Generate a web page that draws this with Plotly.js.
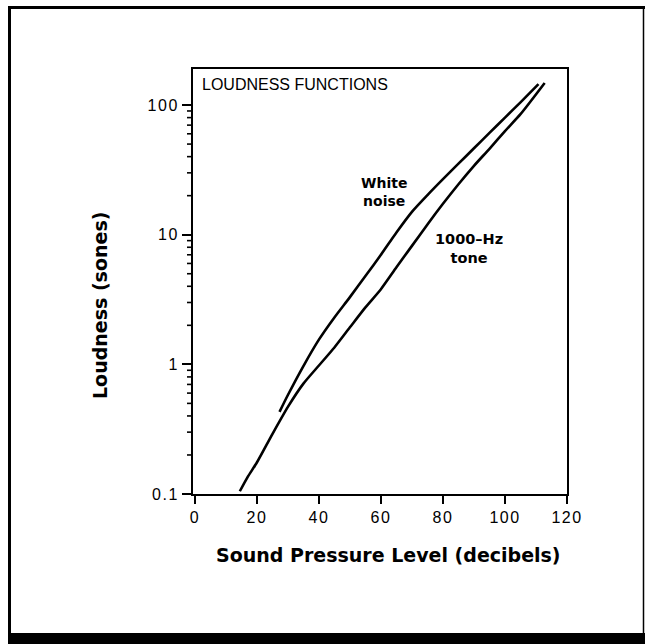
<!DOCTYPE html>
<html><head><meta charset="utf-8">
<script src="https://cdn.plot.ly/plotly-3.0.1.min.js"></script>
<style>
html,body{margin:0;padding:0;background:#fff}
#chart{width:645px;height:644px}
.xtick text,.ytick text{letter-spacing:1.5px}
</style>
</head><body><div id="chart"></div>
<script>
// 1000-Hz tone loudness function
const toneLevel    = [14.5, 17, 20, 25, 30, 35, 40, 45, 50, 55, 60, 65, 70, 75, 80, 85, 90, 95, 100, 105, 112.8];
const toneLoudness = [0.105, 0.135, 0.175, 0.29, 0.47, 0.71, 0.98, 1.35, 1.93, 2.75, 3.8, 5.6, 8.2, 12.0, 17.3, 24.5, 34, 46, 63, 85, 148];
// White noise loudness function
const noiseLevel    = [27.3, 30, 35, 40, 45, 50, 55, 60, 65, 70, 75, 80, 85, 90, 95, 100, 105, 110.8];
const noiseLoudness = [0.43, 0.58, 0.97, 1.55, 2.3, 3.3, 4.8, 7.0, 10.4, 15.0, 20.2, 26.8, 35.3, 46.4, 61, 80, 105, 145];

const xTickVals = [0, 20, 40, 60, 80, 100, 120];
const yTickVals = [0.1, 1, 10, 100];
const yTickText = ['0.1', '1', '10', '100'];
const yMinorVals = [];
[0.1, 1, 10].forEach(d => { for (let k = 2; k <= 9; k++) yMinorVals.push(+(d * k).toPrecision(3)); });

const W = 645, H = 644;
const M = {l: 193, r: 78, t: 69, b: 150};
const PW = W - M.l - M.r, PH = H - M.t - M.b;
const px = x => (x - M.l) / PW;
const py = y => (H - M.b - y) / PH;

const lineStyle = {color: '#000', width: 2.6, shape: 'spline', smoothing: 0.6};
const traces = [
  {x: toneLevel, y: toneLoudness, mode: 'lines', line: lineStyle, name: '1000-Hz tone', hoverinfo: 'skip'},
  {x: noiseLevel, y: noiseLoudness, mode: 'lines', line: lineStyle, name: 'White noise', hoverinfo: 'skip'}
];

const tickFont = {family: 'Liberation Sans, Arial, sans-serif', size: 16, color: '#000'};
const boldFont = s => ({family: 'DejaVu Sans, sans-serif', size: s, color: '#000', weight: 'bold'});
const yRange = [-1, 2.278];
// position of a log value as a fraction of the y axis (same mapping as the log axis)
const yFrac = v => (Math.log10(v) - yRange[0]) / (yRange[1] - yRange[0]);

// minor log ticks on the left axis (outside)
const minorTickShapes = yMinorVals.map(v => ({
  type: 'line', xref: 'paper', yref: 'paper', x0: px(M.l - 6), x1: px(M.l), y0: yFrac(v), y1: yFrac(v),
  line: {color: '#000', width: 1.6}, layer: 'above'
}));

const layout = {
  width: W, height: H,
  margin: M,
  paper_bgcolor: '#fff', plot_bgcolor: '#fff',
  showlegend: false,
  xaxis: {
    range: [-0.6, 120], tickvals: xTickVals, ticks: 'outside', ticklen: 8, tickwidth: 2, tickcolor: '#000',
    showline: true, linewidth: 2, linecolor: '#000', mirror: true, showgrid: false, zeroline: false,
    tickfont: tickFont, fixedrange: true
  },
  yaxis: {
    type: 'log', range: yRange, tickvals: yTickVals, ticktext: yTickText,
    ticks: 'outside', ticklen: 9, tickwidth: 2, tickcolor: '#000',
    showline: true, linewidth: 2, linecolor: '#000', mirror: true, showgrid: false, zeroline: false,
    tickfont: tickFont, fixedrange: true
  },
  annotations: [
    {text: 'LOUDNESS FUNCTIONS', xref: 'paper', yref: 'paper', x: px(200), y: py(85), xanchor: 'left', yanchor: 'middle',
     showarrow: false, font: {family: 'Liberation Sans, Arial, sans-serif', size: 16, color: '#000'}},
    {text: 'White<br>noise', xref: 'paper', yref: 'paper', x: px(384), y: py(192.5), xanchor: 'center', yanchor: 'middle', showarrow: false, font: boldFont(14)},
    {text: '1000–Hz<br>tone', xref: 'paper', yref: 'paper', x: px(469), y: py(248), xanchor: 'center', yanchor: 'middle', showarrow: false, font: boldFont(14.5)},
    {text: 'Sound Pressure Level (decibels)', xref: 'paper', yref: 'paper', x: px(388), y: py(555), xanchor: 'center', yanchor: 'middle', showarrow: false, font: boldFont(19)},
    {text: 'Loudness (sones)', xref: 'paper', yref: 'paper', x: px(100), y: py(306), xanchor: 'center', yanchor: 'middle', textangle: -90, showarrow: false, font: boldFont(19)}
  ],
  shapes: [
    {type: 'line', xref: 'paper', yref: 'paper', x0: px(9.5), x1: px(9.5), y0: py(644), y1: py(6), line: {color: '#000', width: 3}},
    {type: 'line', xref: 'paper', yref: 'paper', x0: px(8), x1: px(645), y0: py(7.5), y1: py(7.5), line: {color: '#000', width: 3}},
    {type: 'line', xref: 'paper', yref: 'paper', x0: px(643.5), x1: px(643.5), y0: py(644), y1: py(6), line: {color: '#000', width: 1.5}},
    {type: 'rect', xref: 'paper', yref: 'paper', x0: px(8), x1: px(645), y0: py(644), y1: py(633), fillcolor: '#000', line: {width: 0}}
  ].concat(minorTickShapes)
};

Plotly.newPlot('chart', traces, layout, {staticPlot: true, displayModeBar: false});
</script>
</body></html>
